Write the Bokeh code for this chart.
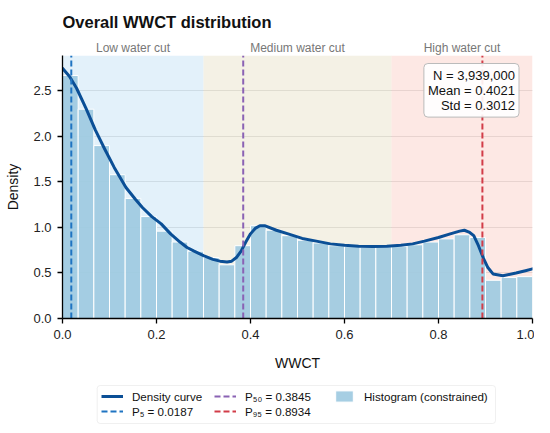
import numpy as np
from bokeh.plotting import figure
from bokeh.layouts import column
from bokeh.models import (Range1d, Label, Legend, LegendItem, BoxAnnotation,
                          FixedTicker, PrintfTickFormatter)
from bokeh.core.properties import value
from bokeh.embed import file_html
from bokeh.resources import INLINE

# ---------------- data ----------------
n_bins = 30
hist_density = [2.67, 2.30, 1.90, 1.58, 1.32, 1.12, 0.96, 0.84, 0.74, 0.67,
                0.59, 0.80, 1.02, 0.97, 0.91, 0.86, 0.83, 0.80, 0.79, 0.78,
                0.79, 0.79, 0.81, 0.84, 0.875, 0.92, 0.89, 0.42, 0.45, 0.46]

curve_x = [0.00, 0.015, 0.03, 0.05, 0.07, 0.09, 0.11, 0.135, 0.155, 0.17,
           0.19, 0.21, 0.23, 0.25, 0.265, 0.28, 0.30, 0.32, 0.335, 0.35,
           0.36, 0.37, 0.38, 0.39, 0.40, 0.41, 0.42, 0.43, 0.455, 0.48,
           0.51, 0.54, 0.57, 0.60, 0.63, 0.66, 0.69, 0.72, 0.745, 0.77,
           0.80, 0.825, 0.845, 0.855, 0.865, 0.875, 0.885, 0.895, 0.905, 0.916,
           0.937, 0.965, 0.985, 1.00]
curve_y = [2.75, 2.66, 2.53, 2.31, 2.07, 1.86, 1.66, 1.44, 1.31, 1.22,
           1.12, 1.04, 0.93, 0.84, 0.78, 0.74, 0.69, 0.65, 0.63, 0.62,
           0.63, 0.67, 0.74, 0.84, 0.93, 0.99, 1.02, 1.02, 0.97, 0.93,
           0.88, 0.85, 0.82, 0.805, 0.795, 0.79, 0.795, 0.805, 0.82, 0.85,
           0.89, 0.93, 0.96, 0.97, 0.95, 0.91, 0.80, 0.67, 0.56, 0.49,
           0.47, 0.50, 0.525, 0.545]

region_names = ["Low water cut", "Medium water cut", "High water cut"]
region_left = [0.0, 0.3, 0.7]
region_right = [0.3, 0.7, 1.0]
region_colors = ["#cce6f6", "#ebe6d0", "#fbd5ce"]

pct_labels = ["P₅ = 0.0187", "P₅₀ = 0.3845", "P₉₅ = 0.8934"]
pct_values = [0.0187, 0.3845, 0.8934]
pct_colors = ["#1f74c2", "#8a62b4", "#d23c48"]

stats_n = 3939000
stats_mean = 0.4021
stats_std = 0.3012

title_text = "Overall WWCT distribution"
x_ticks = [0.0, 0.2, 0.4, 0.6, 0.8, 1.0]
y_ticks = [0.0, 0.5, 1.0, 1.5, 2.0, 2.5]
y_top = 2.89

CURVE_COLOR = "#0b4f96"
HIST_COLOR = "#9ecae1"
FONT = "Liberation Sans"
FW = 470
FH = 263
HEAD = 55
BOTTOM = 52
LEG_H = 51
BL = 62
BR = 2

x_range = Range1d(0, 1)

# ---------------- header (title + region labels) ----------------
head = figure(frame_width=FW, frame_height=HEAD, x_range=x_range, y_range=Range1d(0, HEAD),
              output_backend="svg", toolbar_location=None,
              x_axis_location=None, y_axis_location=None,
              min_border_left=BL, min_border_right=BR, min_border_top=0, min_border_bottom=0)
head.outline_line_color = None
head.grid.visible = False
head.title.visible = False
head.text(x=[0.0], y=[33.3], text=[title_text], text_font=value(FONT),
          text_font_size="16.5px", text_font_style="bold", text_color="#111111",
          text_align="left", text_baseline="alphabetic")
head.text(x=[(a + b) / 2 for a, b in zip(region_left, region_right)], y=[7.7] * 3,
          text=region_names, text_font=value(FONT), text_font_size="12px",
          text_color="#777777", text_align="center", text_baseline="alphabetic")

# ---------------- main figure ----------------
p = figure(frame_width=FW, frame_height=FH,
           x_range=x_range, y_range=Range1d(0, y_top),
           output_backend="svg", toolbar_location=None,
           min_border_left=BL, min_border_right=BR,
           min_border_top=0, min_border_bottom=BOTTOM)
p.title.visible = False
p.outline_line_color = None
p.background_fill_color = "white"

p.xgrid.visible = False
p.ygrid.grid_line_color = "#d0d0d0"
p.ygrid.grid_line_width = 1

for lft, rgt, col in zip(region_left, region_right, region_colors):
    p.add_layout(BoxAnnotation(left=lft, right=rgt, fill_color=col, fill_alpha=0.55,
                               line_color=None, level="underlay"))

edges = np.linspace(0, 1, n_bins + 1)
p.quad(left=edges[:-1], right=edges[1:], bottom=0, top=hist_density,
       fill_color=HIST_COLOR, fill_alpha=0.92, line_color="white", line_width=1)

p.line(curve_x, curve_y, line_color=CURVE_COLOR, line_width=3,
       line_join="round", line_cap="round")

for v, c in zip(pct_values, pct_colors):
    p.segment(x0=[v], y0=[0], x1=[v], y1=[y_top], line_color=c,
              line_width=2, line_dash="6 3")

for ax in (p.xaxis[0], p.yaxis[0]):
    ax.axis_line_color = "black"
    ax.axis_line_width = 1.3
    ax.major_tick_line_color = "black"
    ax.major_tick_line_width = 1.3
    ax.major_tick_in = 0
    ax.major_tick_out = 5
    ax.minor_tick_line_color = None
    ax.major_label_text_font = FONT
    ax.major_label_text_font_size = "13px"
    ax.major_label_text_color = "#222222"
    ax.axis_label_text_font = FONT
    ax.axis_label_text_font_size = "14px"
    ax.axis_label_text_font_style = "normal"
    ax.axis_label_text_color = "#111111"
    ax.major_label_standoff = 6
    ax.formatter = PrintfTickFormatter(format="%.1f")

p.xaxis.ticker = FixedTicker(ticks=x_ticks)
p.yaxis.ticker = FixedTicker(ticks=y_ticks)
p.xaxis.axis_label = "WWCT"
p.yaxis.axis_label = "Density"
p.xaxis.axis_label_standoff = 13
p.yaxis.axis_label_standoff = 9

stats_text = f"N = {stats_n:,}\nMean = {stats_mean:.4f}\nStd = {stats_std:.4f}"
p.add_layout(Label(x=456.5, y=FH - 8, x_units="screen", y_units="screen",
                   text=stats_text, text_font=FONT, text_font_size="13px",
                   text_color="#111111", text_align="right", text_baseline="top",
                   text_line_height=1.02,
                   background_fill_color="white", background_fill_alpha=0.9,
                   border_line_color="#bbbbbb", border_line_width=1,
                   padding=4, border_radius=4))

# ---------------- legend strip ----------------
leg = figure(frame_width=FW, frame_height=LEG_H, x_range=x_range, y_range=Range1d(0, y_top),
             output_backend="svg", toolbar_location=None,
             x_axis_location=None, y_axis_location=None,
             min_border_left=BL, min_border_right=BR, min_border_top=0, min_border_bottom=0)
leg.outline_line_color = None
leg.grid.visible = False
leg.title.visible = False
r_curve = leg.line(curve_x, curve_y, line_color=CURVE_COLOR, line_width=3, visible=False)
r_pct = [leg.segment(x0=[v], y0=[0], x1=[v], y1=[y_top], line_color=c, line_width=2,
                     line_dash="6 3", visible=False)
         for v, c in zip(pct_values, pct_colors)]
r_hist = leg.quad(left=edges[:-1], right=edges[1:], bottom=0, top=hist_density,
                  fill_color=HIST_COLOR, fill_alpha=0.92, line_color="white",
                  line_width=1, visible=False)

leg.add_layout(BoxAnnotation(left=34.7, right=433, bottom=1, top=39,
                             left_units="screen", right_units="screen",
                             bottom_units="screen", top_units="screen",
                             fill_color="white", fill_alpha=1,
                             line_color="#cccccc", line_width=1, border_radius=3))

leg_common = dict(orientation="vertical", label_text_font=FONT,
                  label_text_font_size="11.6px", label_text_color="#111111",
                  glyph_width=22, glyph_height=14, label_height=14,
                  label_standoff=9, spacing=1, padding=0, margin=0,
                  border_line_color=None, background_fill_alpha=0)

leg.add_layout(Legend(items=[LegendItem(label="Density curve", renderers=[r_curve]),
                             LegendItem(label=pct_labels[0], renderers=[r_pct[0]])],
                      location=(39, 6), **leg_common), "center")
leg.add_layout(Legend(items=[LegendItem(label=pct_labels[1], renderers=[r_pct[1]]),
                             LegendItem(label=pct_labels[2], renderers=[r_pct[2]])],
                      location=(152, 6), **leg_common), "center")
leg.add_layout(Legend(items=[LegendItem(label="Histogram (constrained)", renderers=[r_hist])],
                      location=(271, 21), **leg_common), "center")

layout = column(head, p, leg, spacing=0)
open("out.html", "w").write(file_html(layout, INLINE))
